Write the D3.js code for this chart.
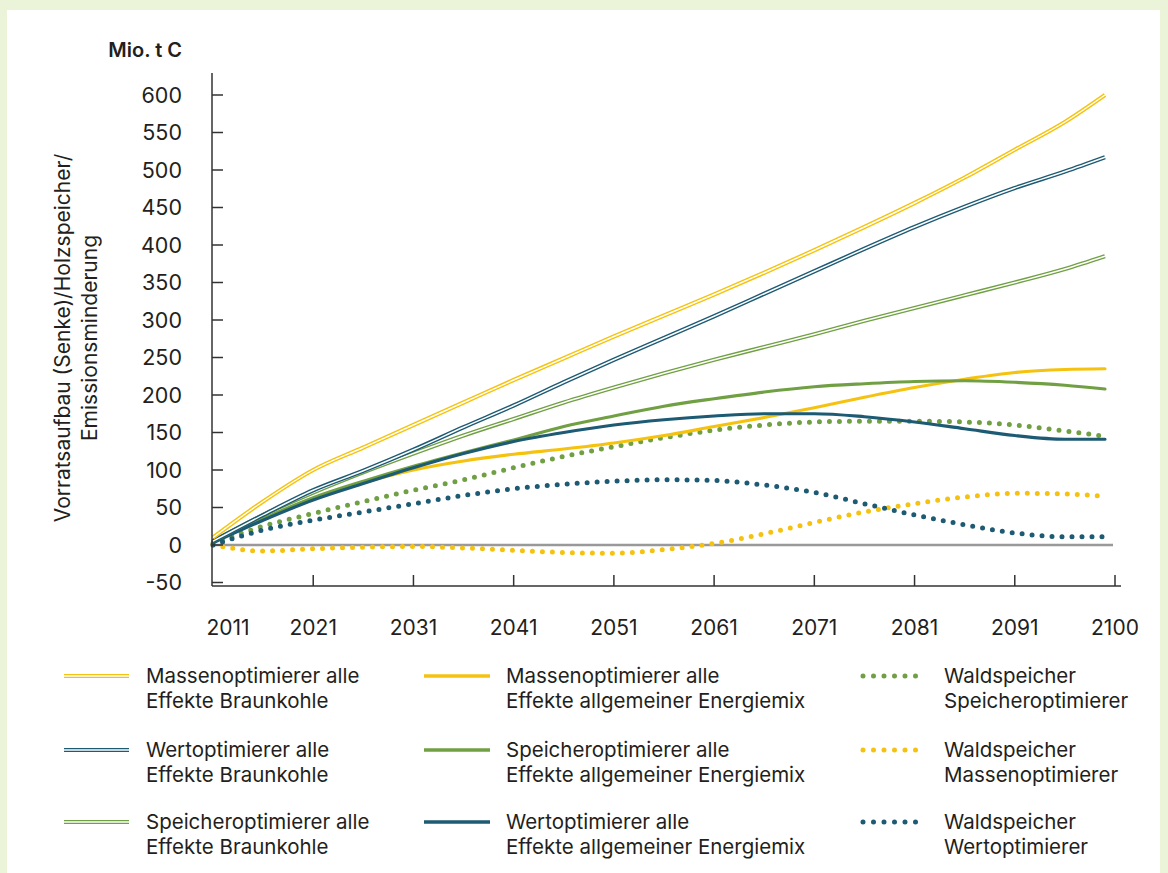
<!DOCTYPE html>
<html>
<head>
<meta charset="utf-8">
<script src="https://cdn.jsdelivr.net/npm/d3@7"></script>
<style>
    body { margin: 0; background: #ebf3d8; }
    svg { display: block; font-family: Inter, Roboto, "Noto Sans", sans-serif; }
</style>
</head>
<body>
<svg id="chart" width="1168" height="873"></svg>
<script>
const years = [2011, 2016, 2021, 2026, 2031, 2036, 2041, 2046, 2051, 2056, 2061, 2066, 2071, 2076, 2081, 2086, 2091, 2096, 2100];

const masseBraunkohle = [10, 58, 100, 130, 160, 190, 220, 249, 278, 306, 334, 363, 393, 424, 456, 490, 527, 564, 600];
const wertBraunkohle = [5, 40, 73, 99, 127, 157, 186, 217, 247, 276, 305, 335, 365, 395, 424, 451, 476, 498, 517];
const speicherBraunkohle = [5, 40, 70, 97, 122, 146, 168, 190, 210, 229, 247, 264, 281, 299, 316, 333, 350, 368, 385];
const masseMix = [5, 35, 62, 83, 100, 112, 121, 128, 136, 146, 158, 170, 183, 197, 210, 221, 230, 234, 235];
const speicherMix = [5, 35, 63, 85, 105, 123, 140, 158, 172, 185, 195, 204, 211, 215, 218, 219, 217, 213, 208];
const wertMix = [3, 33, 60, 82, 103, 122, 138, 150, 160, 167, 172, 175, 175, 171, 164, 155, 146, 141, 141];
const waldSpeicher = [2, 25, 42, 58, 73, 87, 103, 118, 131, 143, 153, 160, 164, 165, 165, 164, 160, 152, 145];
const waldMasse = [0, -8, -5, -3, -2, -4, -7, -10, -11, -6, 2, 15, 30, 44, 55, 64, 69, 68, 65];
const waldWert = [0, 20, 33, 44, 55, 66, 75, 81, 85, 87, 86, 80, 70, 55, 40, 27, 16, 11, 11];

const yTicks = [-50, 0, 50, 100, 150, 200, 250, 300, 350, 400, 450, 500, 550, 600];
const xTickYears = [2011, 2021, 2031, 2041, 2051, 2061, 2071, 2081, 2091, 2101];
const xTickLabels = ["2011", "2021", "2031", "2041", "2051", "2061", "2071", "2081", "2091", "2100"];

const yellow = "#f5c30f";
const green = "#70a043";
const blue = "#1d5a73";

//one entry per line: values, colour and drawing style
const series = [
    { name: ["Massenoptimierer alle", "Effekte Braunkohle"], values: masseBraunkohle, color: yellow, style: "double" },
    { name: ["Wertoptimierer alle", "Effekte Braunkohle"], values: wertBraunkohle, color: blue, style: "double" },
    { name: ["Speicheroptimierer alle", "Effekte Braunkohle"], values: speicherBraunkohle, color: green, style: "double" },
    { name: ["Massenoptimierer alle", "Effekte allgemeiner Energiemix"], values: masseMix, color: yellow, style: "solid" },
    { name: ["Speicheroptimierer alle", "Effekte allgemeiner Energiemix"], values: speicherMix, color: green, style: "solid" },
    { name: ["Wertoptimierer alle", "Effekte allgemeiner Energiemix"], values: wertMix, color: blue, style: "solid" },
    { name: ["Waldspeicher", "Speicheroptimierer"], values: waldSpeicher, color: green, style: "dot" },
    { name: ["Waldspeicher", "Massenoptimierer"], values: waldMasse, color: yellow, style: "dot" },
    { name: ["Waldspeicher", "Wertoptimierer"], values: waldWert, color: blue, style: "dot" }
];

const svg = d3.select("#chart");
const textColor = "#231f20";

//white panel on the green page
svg.append("rect")
    .attr("x", 7)
    .attr("y", 10)
    .attr("width", 1153)
    .attr("height", 863)
    .attr("fill", "#fff");

const x = d3.scaleLinear()
    .domain([2011, 2101])
    .range([213, 1115]);

const y = d3.scaleLinear()
    .domain([-50, 600])
    .range([582.5, 95]);

const axisLeftX = 212;
const axisBottomY = 586;

//zero line
svg.append("line")
    .attr("x1", axisLeftX)
    .attr("x2", x(2101) - 2)
    .attr("y1", y(0))
    .attr("y2", y(0))
    .attr("stroke", "#999")
    .attr("stroke-width", 2.5);

//lines
const line = d3.line()
    .x((d, i) => x(years[i]))
    .y(d => y(d))
    .curve(d3.curveMonotoneX);

const drawOrder = [6, 7, 8, 3, 4, 5, 2, 1, 0];
drawOrder.forEach(k => {
    const s = series[k];
    const path = line(s.values);
    if (s.style === "double") {
        svg.append("path").attr("d", path).attr("fill", "none")
            .attr("stroke", s.color).attr("stroke-width", 4.2);
        svg.append("path").attr("d", path).attr("fill", "none")
            .attr("stroke", "#fff").attr("stroke-width", 1.4);
    } else if (s.style === "solid") {
        svg.append("path").attr("d", path).attr("fill", "none")
            .attr("stroke", s.color).attr("stroke-width", 3.2)
            .attr("stroke-linecap", "round");
    } else {
        svg.append("path").attr("d", path).attr("fill", "none")
            .attr("stroke", s.color).attr("stroke-width", 5)
            .attr("stroke-linecap", "round")
            .attr("stroke-dasharray", "0 10");
    }
});

//y-axis
svg.append("line")
    .attr("x1", axisLeftX).attr("x2", axisLeftX)
    .attr("y1", 73).attr("y2", axisBottomY)
    .attr("stroke", "#333").attr("stroke-width", 1.5);

svg.selectAll(".ytick")
    .data(yTicks)
    .enter()
    .append("line")
    .attr("class", "ytick")
    .attr("x1", axisLeftX).attr("x2", axisLeftX + 11)
    .attr("y1", d => y(d)).attr("y2", d => y(d))
    .attr("stroke", "#333").attr("stroke-width", 1.5);

svg.selectAll(".ylabel")
    .data(yTicks)
    .enter()
    .append("text")
    .attr("class", "ylabel")
    .attr("x", 182)
    .attr("y", d => y(d))
    .attr("dy", "0.36em")
    .attr("text-anchor", "end")
    .style("font-size", "21.5px")
    .style("fill", textColor)
    .text(d => d);

svg.append("text")
    .attr("x", 182)
    .attr("y", 57)
    .attr("text-anchor", "end")
    .style("font-size", "20px")
    .style("font-weight", "600")
    .style("fill", textColor)
    .text("Mio. t C");

//rotated axis title, two lines
const yTitle = svg.append("text")
    .attr("transform", "translate(0, 338) rotate(-90)")
    .attr("text-anchor", "middle")
    .style("font-size", "21px")
    .style("fill", textColor);
yTitle.append("tspan").attr("x", 0).attr("y", 70).text("Vorratsaufbau (Senke)/Holzspeicher/");
yTitle.append("tspan").attr("x", 0).attr("y", 97).text("Emissionsminderung");

//x-axis
svg.append("line")
    .attr("x1", axisLeftX).attr("x2", 1121)
    .attr("y1", axisBottomY).attr("y2", axisBottomY)
    .attr("stroke", "#333").attr("stroke-width", 1.5);

svg.selectAll(".xtick")
    .data(xTickYears.slice(1))
    .enter()
    .append("line")
    .attr("class", "xtick")
    .attr("x1", d => x(d)).attr("x2", d => x(d))
    .attr("y1", axisBottomY).attr("y2", axisBottomY - 11)
    .attr("stroke", "#333").attr("stroke-width", 1.5);

svg.selectAll(".xlabel")
    .data(xTickYears)
    .enter()
    .append("text")
    .attr("class", "xlabel")
    .attr("x", (d, i) => x(d) + (i === 0 ? 15 : 0))
    .attr("y", 635)
    .attr("text-anchor", "middle")
    .style("font-size", "21px")
    .style("fill", textColor)
    .text((d, i) => xTickLabels[i]);

//legend, three columns of three
const colX = [64, 424, 860];
const rowY = [676, 750, 822];

const legend = svg.selectAll(".legend")
    .data(series)
    .enter()
    .append("g")
    .attr("class", "legend")
    .attr("transform", (d, i) => `translate(${colX[Math.floor(i / 3)]},${rowY[i % 3]})`);

legend.each(function (d) {
    const g = d3.select(this);
    if (d.style === "double") {
        g.append("line").attr("x1", 0).attr("x2", 65).attr("y1", 0).attr("y2", 0)
            .attr("stroke", d.color).attr("stroke-width", 4.2);
        g.append("line").attr("x1", 0).attr("x2", 65).attr("y1", 0).attr("y2", 0)
            .attr("stroke", "#fff").attr("stroke-width", 1.4);
    } else if (d.style === "solid") {
        g.append("line").attr("x1", 0).attr("x2", 66).attr("y1", 0).attr("y2", 0)
            .attr("stroke", d.color).attr("stroke-width", 3.5);
    } else {
        g.append("line").attr("x1", 3).attr("x2", 63).attr("y1", 0).attr("y2", 0)
            .attr("stroke", d.color).attr("stroke-width", 5)
            .attr("stroke-linecap", "round")
            .attr("stroke-dasharray", "0 10.5");
    }
});

legend.append("text")
    .attr("x", d => d.style === "dot" ? 84 : 82)
    .attr("y", 7)
    .style("font-size", "20.5px")
    .style("fill", textColor)
    .selectAll("tspan")
    .data(d => d.name)
    .enter()
    .append("tspan")
    .attr("x", function () { return d3.select(this.parentNode).attr("x"); })
    .attr("dy", (d, i) => i === 0 ? 0 : 25)
    .text(d => d);
</script>
</body>
</html>
